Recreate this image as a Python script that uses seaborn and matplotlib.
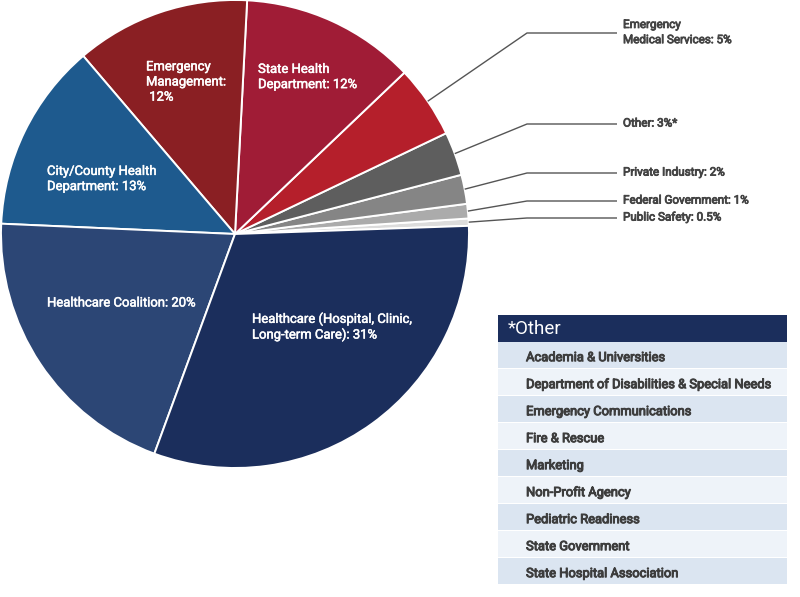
import numpy as np
import matplotlib
matplotlib.use("Agg")
import matplotlib.pyplot as plt
import matplotlib.patheffects as pe
import seaborn as sns

# ---- data ----
categories = ["Public Safety", "Federal Government", "Private Industry", "Other",
              "Emergency Medical Services", "State Health Department",
              "Emergency Management", "City/County Health Department",
              "Healthcare Coalition", "Healthcare (Hospital, Clinic, Long-term Care)"]
shares = [0.5, 1, 2, 3, 5, 12, 12, 13, 20, 31]
colors = ["#dcdcdc", "#ababab", "#858585", "#5e5e5e", "#b51f2b", "#a01c36",
          "#8a1f23", "#1e5a8e", "#2c4675", "#1b2e5c"]

inner_labels = {
    "Emergency Management": "Emergency\nManagement:\n 12%",
    "State Health Department": "State Health\nDepartment: 12%",
    "City/County Health Department": "City/County Health\nDepartment: 13%",
    "Healthcare Coalition": "Healthcare Coalition: 20%",
    "Healthcare (Hospital, Clinic, Long-term Care)": "Healthcare (Hospital, Clinic,\nLong-term Care): 31%",
}
outer_labels = {
    "Emergency Medical Services": "Emergency\nMedical Services: 5%",
    "Other": "Other: 3%*",
    "Private Industry": "Private Industry: 2%",
    "Federal Government": "Federal Government: 1%",
    "Public Safety": "Public Safety: 0.5%",
}
other_header = "*Other"
other_items = ["Academia & Universities", "Department of Disabilities & Special Needs",
               "Emergency Communications", "Fire & Rescue", "Marketing",
               "Non-Profit Agency", "Pediatric Readiness", "State Government",
               "State Hospital Association"]

# ---- layout (pixels) ----
W, H = 800, 597
CX, CY, R = 235, 234, 234

sns.set_theme(style="white")
plt.rcParams["font.family"] = ["Roboto", "DejaVu Sans"]

fig = plt.figure(figsize=(W / 100, H / 100), dpi=100)
fig.patch.set_facecolor("white")
ax = fig.add_axes([0, 0, 1, 1])

def px(x, y):
    return (x - CX) / R, (CY - y) / R

def medium(color, lw):
    return [pe.withStroke(linewidth=lw, foreground=color)]

wedges, _ = ax.pie(shares, colors=colors, startangle=2, counterclock=True,
                   radius=1, center=(0, 0),
                   wedgeprops=dict(edgecolor="white", linewidth=1.4))
ax.set_xlim(-CX / R, (W - CX) / R)
ax.set_ylim((CY - H) / R, CY / R)
ax.set_aspect("equal")
ax.axis("off")

# inner labels: left x, center y in pixels
inner_pos = {
    "Emergency Management": (146, 82),
    "State Health Department": (258, 77),
    "City/County Health Department": (47, 179),
    "Healthcare Coalition": (47, 303),
    "Healthcare (Hospital, Clinic, Long-term Care)": (252, 327),
}
for cat, txt in inner_labels.items():
    x, y = px(*inner_pos[cat])
    ax.text(x, y, txt, color="white", fontsize=9.4, ha="left", va="center",
            multialignment="left", linespacing=1.22, fontweight="normal",
            path_effects=medium("white", 0.35))

# outer labels with elbow leader lines
outer_y = {
    "Emergency Medical Services": 33,
    "Other": 124,
    "Private Industry": 173,
    "Federal Government": 201,
    "Public Safety": 218,
}
elbow_x, end_x, text_x = 527, 617, 623
for w, cat in zip(wedges, categories):
    if cat not in outer_labels:
        continue
    mid = np.deg2rad((w.theta1 + w.theta2) / 2)
    sx, sy = np.cos(mid) * 1.0, np.sin(mid) * 1.0
    ex, ey = px(elbow_x, outer_y[cat])
    fx, _ = px(end_x, outer_y[cat])
    ax.plot([sx, ex, fx], [sy, ey, ey], color="#555555", lw=1.0, solid_capstyle="butt")
    tx, _ = px(text_x, outer_y[cat])
    ax.text(tx, ey + 0.004, outer_labels[cat], color="#444444", fontsize=8.4,
            ha="left", va="center", linespacing=1.22, fontweight="normal",
            path_effects=medium("#444444", 0.6))

# ---- "Other" table ----
tl, tt, tw, rh = 498, 315, 289, 27
nrows = len(other_items) + 1
tax = fig.add_axes([tl / W, (H - tt - rh * nrows) / H, tw / W, rh * nrows / H])
tax.set_xlim(0, 1)
tax.set_ylim(nrows, 0)
tax.axis("off")
tax.axhspan(0, 1, color="#1b2e5c", lw=0)
tax.text(0.035, 0.52, other_header, color="white", fontsize=13.5, va="center",
         ha="left", fontweight="normal")
for i, item in enumerate(other_items):
    tax.axhspan(i + 1, i + 2, color="#dbe5f1" if i % 2 == 0 else "#eef3f9", lw=0)
    tax.axhspan(i + 2 - 0.05, i + 2, color="white", lw=0)
    tax.text(0.097, i + 1.58, item, color="#3d3d3d", fontsize=9.3, va="center",
             ha="left", fontweight="normal", path_effects=medium("#3d3d3d", 0.7))

fig.savefig("out.png", dpi=100, facecolor="white")
